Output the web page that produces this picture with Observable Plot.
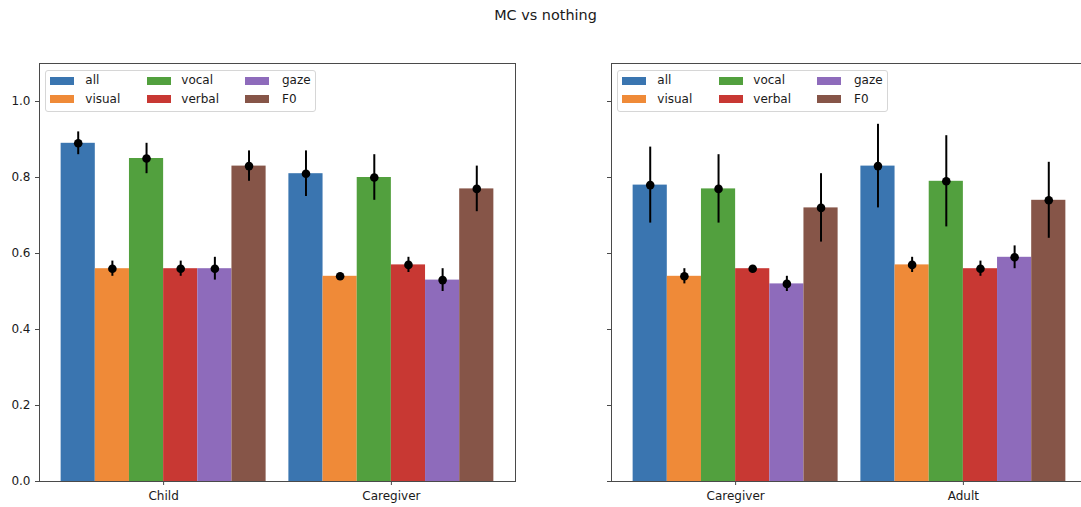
<!DOCTYPE html>
<html>
<head>
<meta charset="utf-8">
<script src="https://cdn.jsdelivr.net/npm/d3@7"></script>
<script src="https://cdn.jsdelivr.net/npm/@observablehq/plot@0.6"></script>
<style>
  html, body { margin: 0; padding: 0; background: #fff; }
  #fig { position: relative; width: 1081px; height: 507px; overflow: hidden; background: #fff;
         font-family: "DejaVu Sans", sans-serif; color: #1a1a1a; }
  #title { position: absolute; left: 0; width: 1091px; top: 8px; text-align: center;
           font-size: 14.4px; line-height: 14.4px; z-index: 2; }
  .panel { position: absolute; top: 0; height: 507px; }
  .legend { position: absolute; background: rgba(255,255,255,0.8); border: 1px solid #d6d6d6;
            border-radius: 3px; box-sizing: border-box; }
  .lg-patch { position: absolute; width: 24px; height: 8.4px; }
  .lg-text { position: absolute; font-size: 12px; line-height: 14px; white-space: nowrap; }
</style>
</head>
<body>
<div id="fig">
  <div id="title">MC vs nothing</div>
  <div id="left" class="panel" style="left:0; width:540px;"></div>
  <div id="right" class="panel" style="left:540px; width:560px;"></div>
</div>
<script>
// Feature sets and their colours
const series = ["all", "visual", "vocal", "verbal", "gaze", "F0"];
const colors = ["#3a75b0", "#ef8a38", "#52a03e", "#c83833", "#8e6bbb", "#865548"];

// Left panel: Child vs Caregiver
const leftGroups = ["Child", "Caregiver"];
const leftChild = [0.89, 0.56, 0.85, 0.56, 0.56, 0.83];
const leftChildErr = [0.03, 0.02, 0.04, 0.02, 0.03, 0.04];
const leftCaregiver = [0.81, 0.54, 0.80, 0.57, 0.53, 0.77];
const leftCaregiverErr = [0.06, 0.004, 0.06, 0.02, 0.03, 0.06];

// Right panel: Caregiver vs Adult
const rightGroups = ["Caregiver", "Adult"];
const rightCaregiver = [0.78, 0.54, 0.77, 0.56, 0.52, 0.72];
const rightCaregiverErr = [0.10, 0.02, 0.09, 0.004, 0.02, 0.09];
const rightAdult = [0.83, 0.57, 0.79, 0.56, 0.59, 0.74];
const rightAdultErr = [0.11, 0.02, 0.12, 0.02, 0.03, 0.10];

const yTicks = [0, 0.2, 0.4, 0.6, 0.8, 1.0];
const barWidth = 0.15;

function rowsFor(groups, means, errs) {
  const rows = [];
  groups.forEach((g, gi) => {
    series.forEach((s, si) => {
      rows.push({
        group: g, series: s,
        x: gi + (si - (series.length - 1) / 2) * barWidth,
        value: means[gi][si], err: errs[gi][si]
      });
    });
  });
  return rows;
}

function panel(el, groups, means, errs, showYLabels, width, marginLeft, marginRight) {
  const rows = rowsFor(groups, means, errs);
  const spine = "#4a4a4a";
  const chart = Plot.plot({
    width, height: 507,
    marginLeft, marginRight, marginTop: 63, marginBottom: 26,
    x: {domain: [-0.545, 1.545]},
    y: {domain: [0, 1.1]},
    color: {domain: series, range: colors},
    style: {fontFamily: "DejaVu Sans, sans-serif", fontSize: "12px", color: "#1a1a1a",
            background: "transparent", maxWidth: "none", overflow: "visible"},
    marks: [
      Plot.rectY(rows, {x1: d => d.x - barWidth / 2, x2: d => d.x + barWidth / 2,
                        y1: 0, y2: "value", fill: "series"}),
      Plot.ruleX(rows, {x: "x", y1: d => d.value - d.err, y2: d => d.value + d.err,
                        stroke: "black", strokeWidth: 2}),
      Plot.dot(rows, {x: "x", y: "value", r: 4.3, fill: "black", stroke: null}),
      Plot.axisX({ticks: [0, 1], tickFormat: i => groups[i], tickSize: 4, tickPadding: 6,
                  label: null, stroke: spine}),
      Plot.axisY({ticks: yTicks, tickFormat: showYLabels ? (d => d.toFixed(1)) : (() => ""),
                  tickSize: 4, tickPadding: 5, label: null, stroke: spine}),
      Plot.frame({stroke: spine, strokeWidth: 1})
    ]
  });
  el.appendChild(chart);

  // Legend box in the upper-left corner of the axes, three columns
  const lg = document.createElement("div");
  lg.className = "legend";
  lg.style.left = (marginLeft + 6.4) + "px";
  lg.style.top = "69.5px";
  lg.style.width = "271px";
  lg.style.height = "42.5px";
  el.appendChild(lg);
  const patchX = [10.9, 108.2, 206.3];
  const textX = [46.3, 142.3, 243];
  const rowY = [80.7, 99.2];
  series.forEach((s, i) => {
    const col = Math.floor(i / 2), row = i % 2;
    const p = document.createElement("div");
    p.className = "lg-patch";
    p.style.background = colors[i];
    p.style.left = (marginLeft + patchX[col]) + "px";
    p.style.top = (rowY[row] - 4.2) + "px";
    el.appendChild(p);
    const t = document.createElement("div");
    t.className = "lg-text";
    t.textContent = s;
    t.style.left = (marginLeft + textX[col]) + "px";
    t.style.top = (rowY[row] - 7.5) + "px";
    el.appendChild(t);
  });
}

panel(document.getElementById("left"), leftGroups,
      [leftChild, leftCaregiver], [leftChildErr, leftCaregiverErr], true, 540, 39, 25);
panel(document.getElementById("right"), rightGroups,
      [rightCaregiver, rightAdult], [rightCaregiverErr, rightAdultErr], false, 560, 71, 13);
</script>
</body>
</html>
